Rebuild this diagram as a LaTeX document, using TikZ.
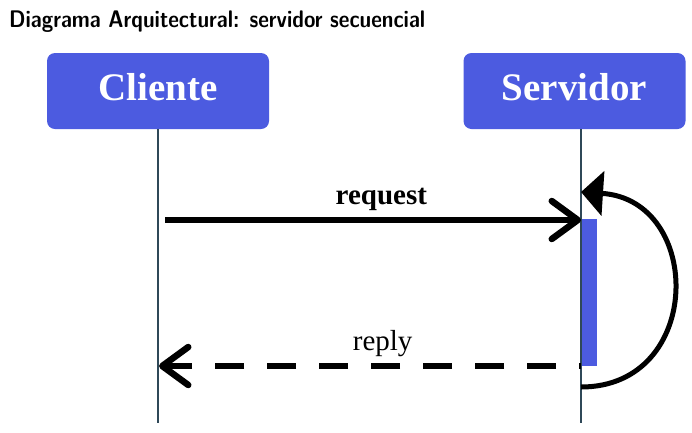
\documentclass[tikz,border=0pt]{standalone}
\usepackage{fontspec}
\usepackage{graphicx}
\newfontfamily\serifb{Liberation Serif}
\usetikzlibrary{arrows.meta}
\definecolor{boxblue}{RGB}{76,91,224}
\definecolor{lifeline}{RGB}{47,72,88}
\begin{document}
\begin{tikzpicture}[x=1pt,y=-1pt,
  actor/.style={rectangle, rounded corners=8pt, fill=boxblue, minimum width=222pt, minimum height=76pt, inner sep=0pt, text=white, font=\serifb\bfseries\fontsize{39}{44}\selectfont, text height=26pt, text depth=8pt},
  life/.style={draw=lifeline, line width=1.6pt},
  msg/.style={line width=6.5pt},
  barb/.style={-{Straight Barb[length=26pt,width=38pt,line cap=round,line join=round]}},
  lblb/.style={font=\serifb\bfseries\fontsize{29}{34}\selectfont, inner sep=6.5pt},
  lbl/.style={font=\serifb\fontsize{29}{34}\selectfont, inner sep=6.5pt},
  activation/.style={fill=boxblue, minimum width=15pt, minimum height=147pt, inner sep=0pt}
]
\useasboundingbox (0,0) rectangle (692,432);
\node[anchor=base west, inner sep=0pt, font=\sffamily\bfseries\fontsize{24}{28}\selectfont] (title) at (9,27) {\scalebox{0.865}[1]{Diagrama Arquitectural: servidor secuencial}};
\node[actor] (cliente) at (158,91) {Cliente};
\node[actor] (servidor) at (574.5,91) {Servidor};
\coordinate (cl-bot) at (158,423);
\coordinate (sv-top) at (581,129);
\coordinate (sv-bot) at (581,423);
\draw[life] (cliente.south) -- (cl-bot);
\draw[life] (sv-top) -- (sv-bot);
\node[activation, anchor=north west] (act) at (581.5,219) {};
\coordinate (req-start) at (165,220);
\coordinate (req-end) at (581,220);
\draw[msg, barb] (req-start) -- (req-end) node[lblb, pos=0.52, above] {request};
\coordinate (rep-start) at (581,366);
\coordinate (rep-end) at (159,366);
\draw[msg, barb, dash pattern=on 29pt off 23pt, dash phase=27pt] (rep-start) -- (rep-end) node[lbl, pos=0.47, above] {reply};
\coordinate (loop-start) at (581,387);
\coordinate (loop-end) at (581,192);
\draw[line width=5pt, -{Triangle[length=22pt,width=44pt]}] (loop-start) .. controls (704,387) and (704,200) .. (loop-end);
\end{tikzpicture}
\end{document}
